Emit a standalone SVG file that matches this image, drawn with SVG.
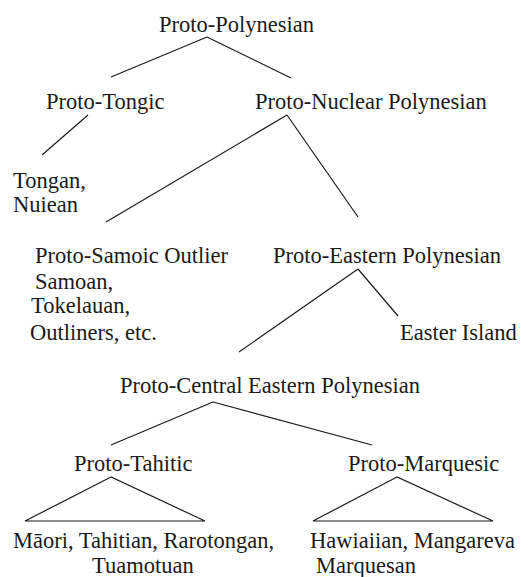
<svg xmlns="http://www.w3.org/2000/svg" width="520" height="577" viewBox="0 0 520 577">
<style>
text{font-family:'Liberation Serif',Tinos,'Times New Roman','DejaVu Serif',serif;font-size:22.5px;fill:#1a1a1a}
line{stroke:#1a1a1a;stroke-width:1.2;fill:none}
.tri{stroke:#1a1a1a;stroke-width:1.2;fill:none}
</style>
<rect width="520" height="577" fill="#fff"/>
<g id="connectors">
<line x1="207" y1="37" x2="111" y2="77"/>
<line x1="207" y1="37" x2="291" y2="78"/>
<line x1="88" y1="115" x2="42" y2="155"/>
<line x1="287" y1="115" x2="106" y2="222"/>
<line x1="287" y1="115" x2="358" y2="217"/>
<line x1="358" y1="269" x2="239" y2="352"/>
<line x1="358" y1="269" x2="398" y2="316"/>
<line x1="213" y1="402" x2="111" y2="445"/>
<line x1="213" y1="402" x2="372" y2="445"/>
<path class="tri" d="M111 477 L25 521 L205 521 Z"/>
<path class="tri" d="M397 477 L313 521 L493 521 Z"/>
</g>
<g id="proto-polynesian"><text x="159" y="32">Proto-Polynesian</text></g>
<g id="proto-tongic"><text x="46" y="109">Proto-Tongic</text></g>
<g id="proto-nuclear"><text x="255" y="109">Proto-Nuclear Polynesian</text></g>
<g id="tongan"><text x="13" y="188">Tongan,</text><text x="13" y="212">Nuiean</text></g>
<g id="proto-samoic"><text x="35" y="263">Proto-Samoic Outlier</text><text x="35" y="289">Samoan,</text><text x="31" y="313">Tokelauan,</text><text x="30" y="340">Outliners, etc.</text></g>
<g id="proto-eastern"><text x="273" y="263">Proto-Eastern Polynesian</text></g>
<g id="easter-island"><text x="400" y="340">Easter Island</text></g>
<g id="proto-central-eastern"><text x="120" y="393">Proto-Central Eastern Polynesian</text></g>
<g id="proto-tahitic"><text x="74" y="471">Proto-Tahitic</text></g>
<g id="proto-marquesic"><text x="348" y="471">Proto-Marquesic</text></g>
<g id="tahitic-langs"><text x="13" y="548">Māori, Tahitian, Rarotongan,</text><text x="92" y="573">Tuamotuan</text></g>
<g id="marquesic-langs"><text x="310" y="548">Hawiaiian, Mangareva</text><text x="316" y="573">Marquesan</text></g>
</svg>
